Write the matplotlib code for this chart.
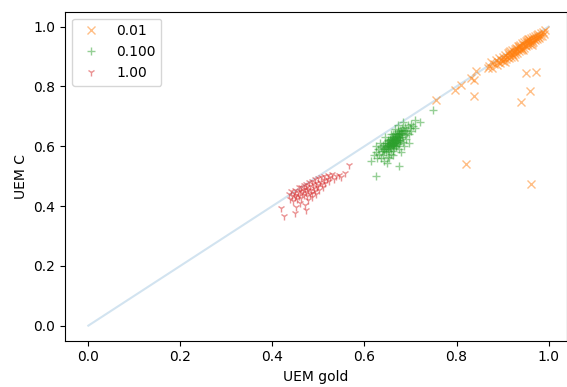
import matplotlib
matplotlib.use("Agg")
import matplotlib.pyplot as plt

# orange group (0.01)
orange_x = [0.870, 0.875, 0.878, 0.882, 0.885, 0.888, 0.890, 0.893, 0.895, 0.897, 0.900, 0.902,
            0.904, 0.906, 0.908, 0.910, 0.912, 0.913, 0.915, 0.917, 0.918, 0.920, 0.921, 0.923,
            0.924, 0.926, 0.927, 0.928, 0.930, 0.931, 0.932, 0.934, 0.935, 0.936, 0.938, 0.939,
            0.940, 0.942, 0.943, 0.944, 0.946, 0.947, 0.948, 0.950, 0.951, 0.952, 0.954, 0.955,
            0.956, 0.958, 0.959, 0.960, 0.962, 0.963, 0.964, 0.966, 0.967, 0.968, 0.970, 0.971,
            0.972, 0.974, 0.975, 0.976, 0.978, 0.980, 0.981, 0.983, 0.985, 0.987, 0.990, 0.993,
            0.951, 0.973, 0.959, 0.941, 0.821, 0.962, 0.839, 0.756, 0.796, 0.810, 0.832, 0.843,
            0.839, 0.868, 0.905, 0.925, 0.945, 0.965, 0.915, 0.935, 0.955]
orange_y = [0.868, 0.880, 0.862, 0.875, 0.888, 0.870, 0.882, 0.895, 0.878, 0.889, 0.900, 0.884,
            0.893, 0.905, 0.890, 0.899, 0.912, 0.895, 0.905, 0.918, 0.900, 0.910, 0.922, 0.905,
            0.915, 0.926, 0.910, 0.920, 0.930, 0.913, 0.924, 0.935, 0.918, 0.928, 0.940, 0.922,
            0.932, 0.944, 0.926, 0.937, 0.948, 0.930, 0.940, 0.952, 0.934, 0.944, 0.955, 0.938,
            0.948, 0.958, 0.942, 0.951, 0.962, 0.946, 0.955, 0.965, 0.950, 0.958, 0.968, 0.954,
            0.962, 0.972, 0.958, 0.966, 0.975, 0.962, 0.970, 0.978, 0.968, 0.982, 0.975, 0.987,
            0.845, 0.847, 0.786, 0.747, 0.541, 0.474, 0.767, 0.754, 0.789, 0.806, 0.828, 0.851,
            0.820, 0.862, 0.880, 0.898, 0.922, 0.940, 0.915, 0.936, 0.957]

# green group (0.100)
green_x = [0.614, 0.624, 0.676, 0.748, 0.720, 0.709, 0.700, 0.620, 0.625, 0.628, 0.630, 0.632,
           0.635, 0.636, 0.638, 0.640, 0.641, 0.643, 0.645, 0.646, 0.648, 0.650, 0.650, 0.652,
           0.653, 0.655, 0.656, 0.657, 0.658, 0.660, 0.660, 0.661, 0.662, 0.663, 0.664, 0.665,
           0.666, 0.667, 0.668, 0.669, 0.670, 0.671, 0.672, 0.673, 0.674, 0.675, 0.676, 0.677,
           0.678, 0.680, 0.681, 0.682, 0.684, 0.685, 0.687, 0.688, 0.690, 0.691, 0.693, 0.695,
           0.697, 0.698, 0.702, 0.705, 0.710, 0.654, 0.642, 0.663, 0.680, 0.686, 0.633,
           0.645, 0.658, 0.667, 0.672, 0.684, 0.626, 0.648, 0.696,
           0.645, 0.648, 0.650, 0.652, 0.654, 0.655, 0.656, 0.658, 0.659, 0.660, 0.661, 0.662,
           0.663, 0.664, 0.665, 0.666, 0.667, 0.668, 0.669, 0.670, 0.671, 0.672, 0.673, 0.675,
           0.676, 0.678, 0.679, 0.681, 0.683, 0.640, 0.643, 0.647, 0.651, 0.653, 0.657, 0.661,
           0.665, 0.668, 0.674, 0.677]
green_y = [0.550, 0.502, 0.533, 0.720, 0.680, 0.689, 0.675, 0.570, 0.580, 0.562, 0.590, 0.575,
           0.598, 0.560, 0.585, 0.605, 0.570, 0.592, 0.612, 0.580, 0.600, 0.620, 0.565, 0.590,
           0.608, 0.625, 0.597, 0.575, 0.615, 0.632, 0.603, 0.585, 0.620, 0.640, 0.610, 0.595,
           0.628, 0.645, 0.615, 0.600, 0.635, 0.622, 0.650, 0.608, 0.640, 0.628, 0.590, 0.655,
           0.618, 0.645, 0.632, 0.660, 0.615, 0.650, 0.638, 0.665, 0.625, 0.655, 0.645, 0.670,
           0.640, 0.660, 0.650, 0.668, 0.660, 0.560, 0.550, 0.570, 0.580, 0.600, 0.612,
           0.630, 0.640, 0.658, 0.670, 0.680, 0.600, 0.545, 0.610,
           0.600, 0.612, 0.605, 0.618, 0.610, 0.600, 0.622, 0.608, 0.615, 0.625, 0.612, 0.605,
           0.628, 0.618, 0.632, 0.612, 0.622, 0.635, 0.625, 0.615, 0.640, 0.630, 0.622, 0.638,
           0.645, 0.632, 0.650, 0.642, 0.655, 0.595, 0.585, 0.590, 0.598, 0.585, 0.595, 0.600,
           0.605, 0.600, 0.612, 0.620]

# red group (1.00)
red_x = [0.419, 0.426, 0.448, 0.473, 0.567, 0.557, 0.435, 0.438, 0.440, 0.442, 0.445, 0.447,
         0.449, 0.450, 0.452, 0.454, 0.455, 0.457, 0.458, 0.460, 0.462, 0.463, 0.465, 0.466,
         0.468, 0.469, 0.470, 0.472, 0.473, 0.475, 0.476, 0.478, 0.480, 0.481, 0.482, 0.484,
         0.486, 0.487, 0.488, 0.490, 0.492, 0.493, 0.494, 0.496, 0.498, 0.500, 0.501, 0.503,
         0.505, 0.507, 0.509, 0.511, 0.513, 0.515, 0.518, 0.520, 0.523, 0.526, 0.530, 0.534,
         0.538, 0.545, 0.550, 0.460, 0.478, 0.470, 0.452, 0.485, 0.495]
red_y = [0.394, 0.366, 0.378, 0.388, 0.538, 0.510, 0.440, 0.425, 0.450, 0.432, 0.418, 0.445,
         0.430, 0.455, 0.438, 0.422, 0.448, 0.462, 0.435, 0.450, 0.428, 0.465, 0.442, 0.455,
         0.470, 0.438, 0.458, 0.448, 0.475, 0.432, 0.462, 0.452, 0.480, 0.440, 0.468, 0.455,
         0.485, 0.445, 0.472, 0.460, 0.490, 0.450, 0.476, 0.465, 0.495, 0.470, 0.455, 0.482,
         0.498, 0.475, 0.462, 0.488, 0.500, 0.478, 0.492, 0.505, 0.485, 0.498, 0.508, 0.492,
         0.502, 0.505, 0.498, 0.410, 0.420, 0.405, 0.398, 0.430, 0.440]

labels = ["0.01", "0.100", "1.00"]

fig = plt.figure(figsize=(5.67, 3.87), dpi=100)
ax = fig.add_axes([0.1146, 0.1199, 0.886, 0.850])

ax.plot([0, 1], [0, 1], color="tab:blue", alpha=0.2)
ax.plot(orange_x, orange_y, "x", color="tab:orange", alpha=0.5, label=labels[0], linestyle="none")
ax.plot(green_x, green_y, "+", color="tab:green", alpha=0.5, label=labels[1], linestyle="none")
ax.plot(red_x, red_y, "1", color="tab:red", alpha=0.5, label=labels[2], linestyle="none")

ax.set_xlim(-0.0507, 1.0407)
ax.set_ylim(-0.05, 1.05)
ax.set_xlabel("UEM gold")
ax.set_ylabel("UEM C")
ax.legend(loc="upper left")

fig.savefig("out.png", dpi=100)
